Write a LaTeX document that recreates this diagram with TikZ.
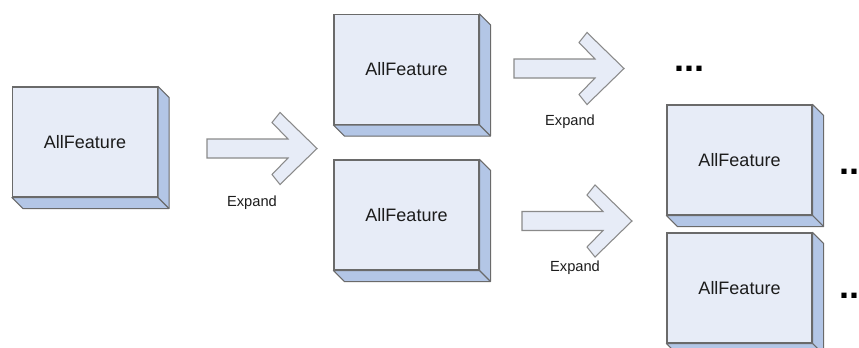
\documentclass[tikz,border=0pt]{standalone}
\usepackage{fontspec}
\setmainfont{Liberation Sans}
\definecolor{boxfront}{HTML}{E7ECF7}
\definecolor{boxside}{HTML}{B3C6E6}
\definecolor{boxline}{HTML}{6A6A6A}
\definecolor{arrline}{HTML}{8A8A8A}
\definecolor{textcol}{HTML}{1C1C1C}
\newcommand\expandarrow[3]{%
  \draw[bigarrow] (#1,#3-9.5) -- (#2-29,#3-9.5) -- (#2-45,#3-26) -- (#2-37,#3-36)
    -- (#2,#3) -- (#2-37,#3+36) -- (#2-45,#3+26) -- (#2-29,#3+9.5) -- (#1,#3+9.5) -- cycle;}
\newcommand\depthof[1]{%
  \filldraw[depthface] (#1.north east) -- ([shift={(11,11)}]#1.north east)
    -- ([shift={(11,11)}]#1.south east) -- ([shift={(11,11)}]#1.south west)
    -- (#1.south west) -- (#1.south east) -- cycle;
  \draw[depthface] (#1.south east) -- ([shift={(11,11)}]#1.south east);}
\begin{document}
\begin{tikzpicture}[x=0.75pt,y=-0.75pt,
  featbox/.style={draw=boxline, fill=boxfront, line width=0.9pt,
    minimum width=108.75pt, minimum height=82.5pt, inner sep=0pt,
    font=\fontsize{13.5}{16}\selectfont, text=textcol},
  depthface/.style={draw=boxline, fill=boxside, line width=0.8pt, line join=round},
  bigarrow/.style={draw=arrline, fill=boxfront, line width=0.8pt, line join=miter},
  lbl/.style={font=\fontsize{11}{13}\selectfont, text=textcol, inner sep=0pt},
  dots/.style={font=\bfseries\fontsize{27}{30}\selectfont, anchor=base west,
    inner sep=0pt, text=black}]
\useasboundingbox (0,0) rectangle (859,347);
% boxes
\node[featbox] (b1) at (85,142) {AllFeature};
\depthof{b1}
\node[featbox] (b2) at (406.5,69.5) {AllFeature};
\depthof{b2}
\node[featbox] (b3) at (406.5,215) {AllFeature};
\depthof{b3}
\node[featbox] (b4) at (739.5,160) {AllFeature};
\depthof{b4}
\node[featbox] (b5) at (739.5,288) {AllFeature};
\depthof{b5}
% arrows
\expandarrow{207}{317}{148.5}
\expandarrow{514}{624}{68.5}
\expandarrow{522}{632}{221}
\node[lbl] (l1) at (252,203) {Expand};
\node[lbl] (l2) at (570,122) {Expand};
\node[lbl] (l3) at (575,268) {Expand};
% dots
\node[dots] (d1) at (674,71) {...};
\node[dots] (d2) at (839.5,174) {...};
\node[dots] (d3) at (839.5,298) {...};
\end{tikzpicture}
\end{document}
